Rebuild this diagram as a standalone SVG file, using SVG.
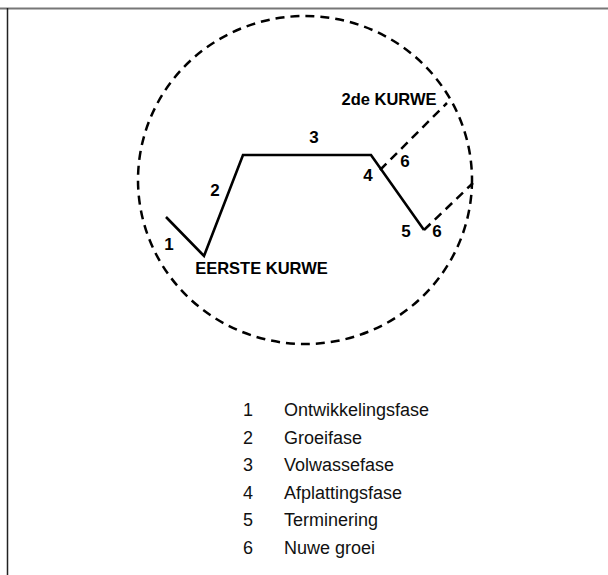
<svg xmlns="http://www.w3.org/2000/svg" width="608" height="575" viewBox="0 0 608 575">
<style>
.lbl{font-family:"Liberation Sans",Arial,sans-serif;font-weight:bold;font-size:16.5px;fill:#000}
.num{font-family:"Liberation Sans",Arial,sans-serif;font-weight:bold;font-size:17px;fill:#000}
.leg{font-family:"Liberation Sans",Arial,sans-serif;font-size:18px;fill:#111}
.dash{fill:none;stroke:#000;stroke-width:2.5;stroke-dasharray:9 6}
.solid{fill:none;stroke:#000;stroke-width:2.6;stroke-linejoin:miter}
</style>
<rect width="608" height="575" fill="#fff"/>
<line x1="0" y1="8.5" x2="608" y2="8.5" stroke="#777" stroke-width="2"/>
<line x1="7.5" y1="8" x2="7.5" y2="575" stroke="#222" stroke-width="1.5"/>
<g id="circle">
<ellipse cx="305" cy="180" rx="167" ry="164" class="dash"/>
</g>
<g id="connectors">
<polyline class="solid" points="166,217 204,256 243,155 371,155 424,230"/>
<line class="dash" x1="380" y1="170" x2="447" y2="103"/>
<line class="dash" x1="424" y1="230" x2="473" y2="183" stroke-dasharray="6 5 9 6"/>
</g>
<g id="labels">
<text class="num" x="169" y="250" text-anchor="middle">1</text>
<text class="num" x="215" y="196" text-anchor="middle">2</text>
<text class="num" x="314" y="143" text-anchor="middle">3</text>
<text class="num" x="368" y="181" text-anchor="middle">4</text>
<text class="num" x="405" y="167" text-anchor="middle">6</text>
<text class="num" x="406" y="237" text-anchor="middle">5</text>
<text class="num" x="437" y="237" text-anchor="middle">6</text>
<text class="lbl" x="261.5" y="274" text-anchor="middle">EERSTE KURWE</text>
<text class="lbl" x="389" y="105" text-anchor="middle">2de KURWE</text>
</g>
<g id="legend">
<text class="leg" x="248" y="416" text-anchor="middle">1</text>
<text class="leg" x="284" y="416">Ontwikkelingsfase</text>
<text class="leg" x="248" y="444" text-anchor="middle">2</text>
<text class="leg" x="284" y="444">Groeifase</text>
<text class="leg" x="248" y="471" text-anchor="middle">3</text>
<text class="leg" x="284" y="471">Volwassefase</text>
<text class="leg" x="248" y="499" text-anchor="middle">4</text>
<text class="leg" x="284" y="499">Afplattingsfase</text>
<text class="leg" x="248" y="526" text-anchor="middle">5</text>
<text class="leg" x="284" y="526">Terminering</text>
<text class="leg" x="248" y="554" text-anchor="middle">6</text>
<text class="leg" x="284" y="554">Nuwe groei</text>
</g>
</svg>
